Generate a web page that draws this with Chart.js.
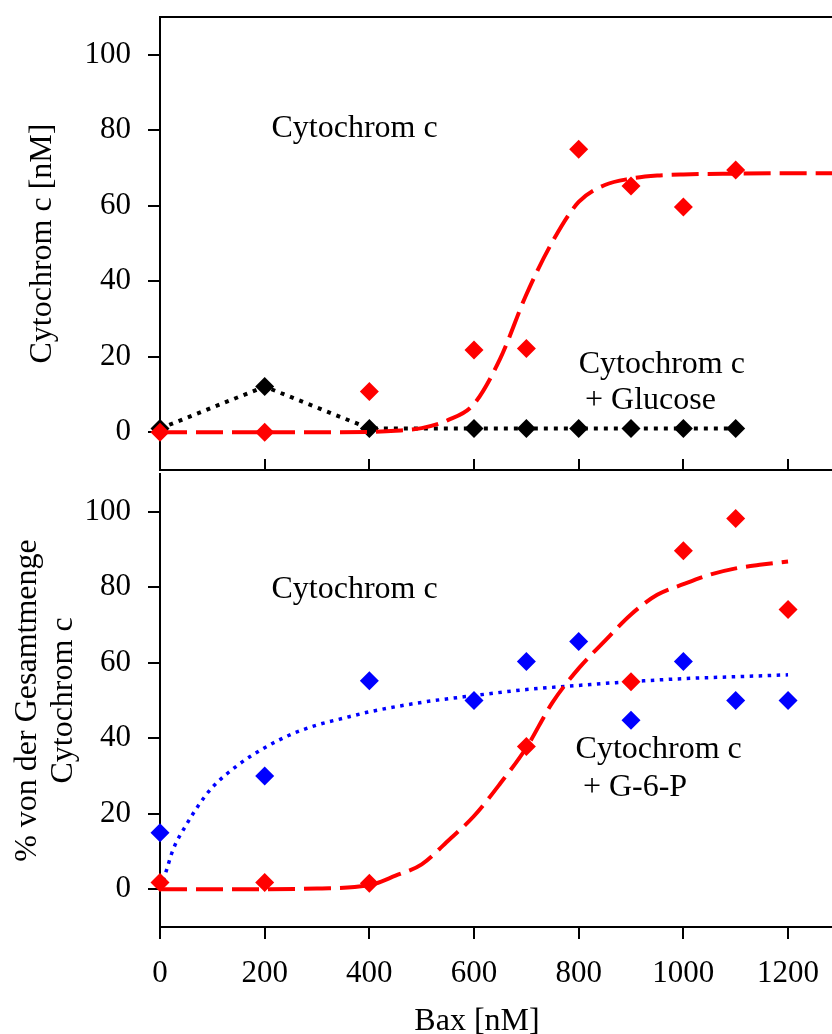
<!DOCTYPE html>
<html>
<head>
<meta charset="utf-8">
<title>Cytochrom c Freisetzung</title>
<script src="https://cdn.jsdelivr.net/npm/chart.js@4.4.0/dist/chart.umd.min.js"></script>
<style>
    html, body { margin: 0; padding: 0; background: #fff; }
    #wrap { position: relative; width: 832px; height: 1034px; overflow: hidden; }
    canvas { position: absolute; left: 0; }
    #topChart { top: 0; }
    #bottomChart { top: 472px; }
</style>
</head>
<body>
<div id="wrap">
    <canvas id="topChart" width="832" height="472"></canvas>
    <canvas id="bottomChart" width="832" height="562"></canvas>
</div>
<script>
// Values
const xTicks = [0, 200, 400, 600, 800, 1000, 1200];
const yTicks = [0, 20, 40, 60, 80, 100];

// top panel: Cytochrom c [nM]
const topCytX = [0, 200, 400, 600, 700, 800, 900, 1000, 1100];
const topCytY = [0, 0, 10.8, 21.8, 22.2, 75, 65.2, 59.7, 69.5];
const topGlucX = [0, 200, 400, 600, 700, 800, 900, 1000, 1100];
const topGlucY = [1, 12.1, 1, 1, 1, 1, 1, 1, 1];
// dashed fit curve, sampled along the drawn line
const topFitX = [0, 100, 200, 300, 400, 450, 500, 550, 600, 650, 700, 750, 800, 850, 900, 950, 1000, 1100, 1200, 1284];
const topFitY = [0, 0, 0, 0, 0.1, 0.4, 1.1, 3.2, 7.5, 19.5, 36.5, 50.5, 61, 65.5, 67.2, 68, 68.3, 68.5, 68.6, 68.6];

// bottom panel: % of total cytochrom c
const botCytX = [0, 200, 400, 700, 900, 1000, 1100, 1200];
const botCytY = [1.8, 1.8, 1.6, 37.8, 55, 89.7, 98.2, 74.1];
const botG6PX = [0, 200, 400, 600, 700, 800, 900, 1000, 1100, 1200];
const botG6PY = [15, 30, 55.2, 50, 60.3, 65.6, 44.8, 60.3, 50, 50];
const botFitX = [0, 100, 200, 300, 400, 450, 500, 550, 600, 650, 700, 750, 800, 850, 900, 950, 1000, 1050, 1100, 1150, 1200];
const botFitY = [0, 0, 0, 0.2, 1.1, 3.6, 6.6, 12.8, 19.4, 28, 37.5, 49.5, 58.5, 65.8, 72.8, 78, 80.8, 83.3, 85, 86, 86.8];
const botG6PFitX = [0, 10, 25, 50, 75, 100, 150, 200, 250, 300, 350, 400, 500, 600, 700, 800, 900, 1000, 1100, 1200];
const botG6PFitY = [0, 4, 10.5, 17, 22.5, 27, 33, 37.5, 41, 43.5, 45.3, 47, 49.5, 51.3, 52.9, 54, 55, 55.8, 56.3, 56.8];

const SERIF = '"Liberation Serif", "Times New Roman", serif';
const RED = '#ff0000';
const BLUE = '#0000ff';

function pts(xs, ys) {
    return xs.map((x, i) => ({ x: x, y: ys[i] }));
}

// free text inside the plot, anchored in data units
const annotate = {
    id: 'annotate',
    afterDatasetsDraw(chart, args, opts) {
        const ctx = chart.ctx;
        const xs = chart.scales.x, ys = chart.scales.y;
        ctx.save();
        ctx.fillStyle = '#000';
        ctx.font = '32px ' + SERIF;
        ctx.textBaseline = 'alphabetic';
        ctx.textAlign = 'left';
        (opts.labels || []).forEach(l => {
            ctx.fillText(l.text, xs.getPixelForValue(l.x), ys.getPixelForValue(l.y));
        });
        if (opts.xTitle) {
            ctx.textAlign = 'center';
            ctx.fillText(opts.xTitle.text, opts.xTitle.px, opts.xTitle.py);
        }
        ctx.restore();
    }
};

// top panel: frame lines and inward x ticks (no labels there)
const topFrame = {
    id: 'topFrame',
    beforeDatasetsDraw(chart) {
        const { ctx, chartArea: a, width } = chart;
        const xs = chart.scales.x;
        ctx.save();
        ctx.strokeStyle = '#000';
        ctx.lineWidth = 2;
        ctx.beginPath();
        ctx.moveTo(a.left - 1, a.top);
        ctx.lineTo(width, a.top);
        ctx.moveTo(a.left - 1, a.bottom);
        ctx.lineTo(width, a.bottom);
        xTicks.forEach(v => {
            const px = Math.round(xs.getPixelForValue(v));
            ctx.moveTo(px, a.bottom);
            ctx.lineTo(px, a.bottom - 11);
        });
        ctx.stroke();
        ctx.restore();
    }
};

function yScale(title) {
    return {
        type: 'linear',
        min: -10,
        max: 110,
        afterBuildTicks: s => { s.ticks = yTicks.map(v => ({ value: v })); },
        afterFit: s => { s.width = 160; s.paddingTop = 0; s.paddingBottom = 0; },
        border: { display: true, color: '#000', width: 2 },
        grid: { drawOnChartArea: false, drawTicks: true, tickLength: 12, color: '#000', lineWidth: 2 },
        ticks: { color: '#000', font: { family: SERIF, size: 31 }, padding: 17, callback: v => String(v) },
        title: title
    };
}

const common = {
    responsive: false,
    animation: false,
    events: [],
    plugins: { legend: { display: false }, tooltip: { enabled: false } }
};

function markers(xs, ys, color) {
    return {
        data: pts(xs, ys),
        showLine: false,
        pointStyle: 'rectRot',
        pointRadius: 9.5,
        pointBackgroundColor: color,
        pointBorderWidth: 0,
        clip: false
    };
}

function fitLine(xs, ys, color, width, dash) {
    return {
        data: pts(xs, ys),
        borderColor: color,
        borderWidth: width,
        borderDash: dash,
        borderCapStyle: 'butt',
        pointRadius: 0,
        fill: false,
        cubicInterpolationMode: 'monotone'
    };
}

new Chart(document.getElementById('topChart'), {
    type: 'line',
    data: {
        datasets: [
            Object.assign(markers(topCytX, topCytY, RED), { label: 'Cytochrom c' }),
            Object.assign(fitLine(topFitX, topFitY, RED, 4, [27, 9]), { label: 'Fit' }),
            Object.assign(markers(topGlucX, topGlucY, '#000'), {
                label: 'Cytochrom c + Glucose',
                showLine: true,
                borderColor: '#000',
                borderWidth: 4,
                borderDash: [4, 6],
                tension: 0
            })
        ]
    },
    options: Object.assign({}, common, {
        layout: { autoPadding: false, padding: { top: 17, bottom: 2, left: 0, right: 0 } },
        scales: {
            x: { type: 'linear', min: 0, max: 1284, display: false },
            y: yScale({
                display: true,
                text: 'Cytochrom c [nM]',
                color: '#000',
                font: { family: SERIF, size: 32 },
                padding: { top: 23, bottom: 0 }
            })
        },
        plugins: Object.assign({}, common.plugins, {
            annotate: {
                labels: [
                    { text: 'Cytochrom c', x: 213, y: 78.1 },
                    { text: 'Cytochrom c', x: 800, y: 15.7 },
                    { text: '+ Glucose', x: 812, y: 6.2 }
                ]
            }
        })
    }),
    plugins: [topFrame, annotate]
});

new Chart(document.getElementById('bottomChart'), {
    type: 'line',
    data: {
        datasets: [
            Object.assign(markers(botCytX, botCytY, RED), { label: 'Cytochrom c' }),
            Object.assign(markers(botG6PX, botG6PY, BLUE), { label: 'Cytochrom c + G-6-P' }),
            Object.assign(fitLine(botFitX, botFitY, RED, 4, [27, 9]), { label: 'Fit Cytochrom c' }),
            Object.assign(fitLine(botG6PFitX, botG6PFitY, BLUE, 3.5, [3.5, 5.5]), { label: 'Fit G-6-P' })
        ]
    },
    options: Object.assign({}, common, {
        layout: { autoPadding: false, padding: { top: 2, bottom: 0, left: 0, right: 0 } },
        scales: {
            x: {
                type: 'linear',
                min: 0,
                max: 1284,
                afterBuildTicks: s => { s.ticks = xTicks.map(v => ({ value: v })); },
                afterFit: s => { s.height = 107; s.paddingLeft = 0; s.paddingRight = 0; },
                border: { display: true, color: '#000', width: 2 },
                grid: { drawOnChartArea: false, drawTicks: true, tickLength: 12, color: '#000', lineWidth: 2 },
                ticks: { color: '#000', font: { family: SERIF, size: 31 }, padding: 16, maxRotation: 0, autoSkip: false, callback: v => String(v) }
            },
            y: yScale({
                display: true,
                text: ['% von der Gesamtmenge', 'Cytochrom c'],
                color: '#000',
                font: { family: SERIF, size: 32, lineHeight: 1.125 },
                padding: { top: 10, bottom: 0 }
            })
        },
        plugins: Object.assign({}, common.plugins, {
            annotate: {
                labels: [
                    { text: 'Cytochrom c', x: 213, y: 77.2 },
                    { text: 'Cytochrom c', x: 794, y: 34.7 },
                    { text: '+ G-6-P', x: 808, y: 24.7 }
                ],
                xTitle: { text: 'Bax [nM]', px: 477, py: 558 }
            }
        })
    }),
    plugins: [annotate]
});
</script>
</body>
</html>
